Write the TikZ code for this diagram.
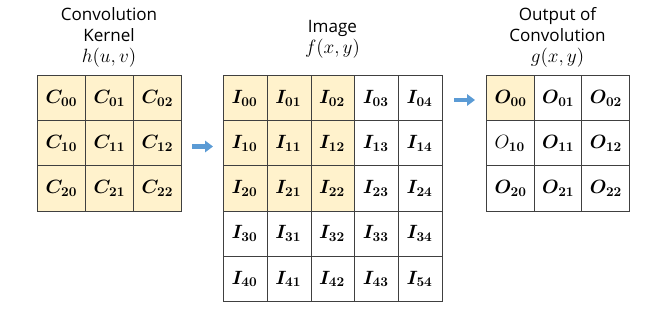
\documentclass[tikz,border=0pt]{standalone}
\usepackage{bm}
\usepackage[no-math]{fontspec}
\newfontfamily\titlefont{Open Sans}
\usetikzlibrary{arrows.meta}
\definecolor{kfill}{HTML}{FFF2CC}
\definecolor{gridline}{HTML}{404040}
\definecolor{arrowblue}{HTML}{5B9BD5}
\tikzset{
  cell/.style={draw=gridline, line width=0.8pt, inner ysep=0pt, inner xsep=6pt,
    minimum height=45.2*0.75pt, anchor=north west, align=left,
    font=\Large},
  title/.style={align=center, inner sep=0pt, font=\titlefont\fontsize{12.8}{15.75}\selectfont},
  blockarrow/.style={draw=arrowblue, line width=3.5pt, -{Triangle[length=6pt,width=8.5pt]}}
}
\newcommand{\tmath}[1]{{\Large$#1$}}
\begin{document}
\begin{tikzpicture}[x=0.75pt,y=-0.75pt]
\useasboundingbox (0,0) rectangle (665,313);
% backgrounds
\fill[kfill] (37,75) rectangle (181,210.6);
\fill[kfill] (223,75) rectangle (354.4,210.6);
\fill[kfill] (486,75) rectangle (533.7,120.2);
% kernel
\foreach \r in {0,1,2}{
  \foreach \c in {0,1,2}{
    \node[cell, text width=(48-16)*0.75pt] (k\r\c) at ({37+48*\c},{75+45.2*\r}) {$\bm{C}_{\mathbf{\r\c}}$};
  }
}
% image
\foreach \r in {0,1,2,3,4}{
  \foreach \c in {0,1,2,3,4}{
    \node[cell, text width=(43.8-16)*0.75pt] (i\r\c) at ({223+43.8*\c},{75+45.2*\r}) {$\bm{I}_{\mathbf{\ifnum\r\c=44 54\else\r\c\fi}}$};
  }
}
% output
\foreach \r in {0,1,2}{
  \foreach \c in {0,1,2}{
    \node[cell, text width=(47.7-16)*0.75pt] (o\r\c) at ({486+47.7*\c},{75+45.2*\r}) {$\ifnum\r\c=10 O\else\bm{O}\fi_{\mathbf{\r\c}}$};
  }
}
% titles
\node[title] (tk) at (109,37) {Convolution\\Kernel\\\tmath{h(u,v)}};
\node[title] (ti) at (332.5,39) {Image\\\tmath{f(x,y)}};
\node[title] (to) at (557.5,37) {Output of\\Convolution\\\tmath{g(x,y)}};
% arrows
\coordinate (a1s) at (192,146.5);
\coordinate (a1e) at (213,146.5);
\coordinate (a2s) at (454,100);
\coordinate (a2e) at (475,100);
\draw[blockarrow] (a1s) -- (a1e);
\draw[blockarrow] (a2s) -- (a2e);
\end{tikzpicture}
\end{document}
